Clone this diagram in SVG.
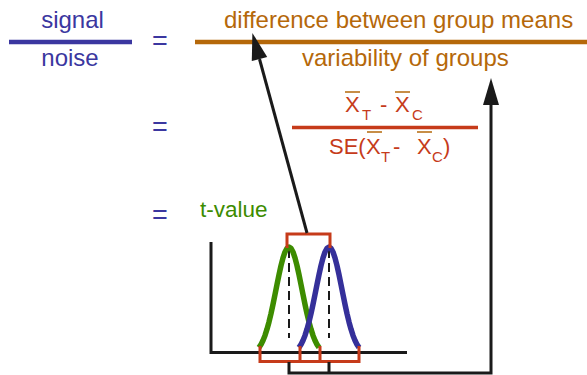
<svg xmlns="http://www.w3.org/2000/svg" width="587" height="375" viewBox="0 0 587 375">
<style>
text{font-family:"Liberation Sans",Arial,Helvetica,sans-serif}
.blue{fill:#3b37a0}
.org{fill:#b5680a}
.red{fill:#c63b1a}
.grn{fill:#3d8c00}
.eq{fill:#3b37a0;font-size:27px}
.big{font-size:24px}
.rx{font-size:22px}
.sub{font-size:15px}
.bar{stroke:#b5680a;stroke-width:1.5}
.rb{fill:none;stroke:#c63b1a;stroke-width:3}
.ax{fill:none;stroke:#1a1a1a;stroke-width:3}
.dash{stroke:#1a1a1a;stroke-width:2;stroke-dasharray:9,5}
.con{fill:none;stroke:#1a1a1a;stroke-width:3}
</style>
<defs>
<marker id="ah" markerUnits="userSpaceOnUse" viewBox="0 0 27 16" refX="0" refY="8" markerWidth="27" markerHeight="16" orient="auto" overflow="visible">
<path d="M0,0 L27,8 L0,16 z" fill="#1a1a1a"/>
</marker>
</defs>

<g id="signal-noise">
<text class="blue big" x="72.5" y="28" text-anchor="middle">signal</text>
<line x1="9" y1="42" x2="132" y2="42" stroke="#3b37a0" stroke-width="4.5"/>
<text class="blue big" x="70" y="66" text-anchor="middle">noise</text>
</g>

<g id="eq1"><text class="eq" x="152" y="49.5">=</text></g>
<g id="eq2"><text class="eq" x="152" y="135.5">=</text></g>
<g id="eq3"><text class="eq" x="152" y="223.5">=</text></g>

<g id="diff-variability">
<text class="org big" x="224" y="28">difference between group means</text>
<line x1="195" y1="42" x2="587" y2="42" stroke="#b5680a" stroke-width="4.5"/>
<text class="org big" x="302" y="65.5">variability of groups</text>
</g>

<g id="formula">
<text class="red rx" x="345" y="112">X</text>
<text class="red sub" x="362" y="120">T</text>
<text class="red rx" x="380" y="112">-</text>
<text class="red rx" x="395" y="112">X</text>
<text class="red sub" x="412" y="120">C</text>
<line class="bar" x1="345" y1="92" x2="360" y2="92"/>
<line class="bar" x1="395" y1="92" x2="410" y2="92"/>
<line x1="292" y1="127.5" x2="478" y2="127.5" stroke="#c63b1a" stroke-width="3.5"/>
<text class="red rx" x="329" y="154">SE(</text>
<text class="red rx" x="366" y="154">X</text>
<text class="red sub" x="381" y="162">T</text>
<text class="red rx" x="393" y="154">-</text>
<text class="red rx" x="417" y="154">X</text>
<text class="red sub" x="432" y="162">C</text>
<text class="red rx" x="443" y="154">)</text>
<line class="bar" x1="367" y1="132" x2="382" y2="132"/>
<line class="bar" x1="417" y1="132" x2="432" y2="132"/>
</g>

<g id="t-value"><text class="grn" x="200" y="217" style="font-size:22.5px">t-value</text></g>

<g id="plot">
<path class="ax" d="M211,242 V352.5 H407"/>
<line class="dash" x1="289" y1="249" x2="289" y2="338"/>
<line class="dash" x1="329" y1="249" x2="329" y2="338"/>
<polyline fill="none" stroke="#3d8c00" stroke-width="5.5" stroke-linejoin="round" points="259,347.5 261,344.4 263,340.4 265,335.4 267,329.2 269,321.9 271,313.6 273,304.4 275,294.5 277,284.5 279,274.7 281,265.6 283,257.9 285,252 287,248.3 289,247 291,248.3 293,252 295,257.9 297,265.6 299,274.7 301,284.5 303,294.5 305,304.4 307,313.6 309,321.9 311,329.2 313,335.4 315,340.4 317,344.4 319,347.5"/>
<polyline fill="none" stroke="#35309a" stroke-width="5.5" stroke-linejoin="round" points="299,347.5 301,344.4 303,340.4 305,335.4 307,329.2 309,321.9 311,313.6 313,304.4 315,294.5 317,284.5 319,274.7 321,265.6 323,257.9 325,252 327,248.3 329,247 331,248.3 333,252 335,257.9 337,265.6 339,274.7 341,284.5 343,294.5 345,304.4 347,313.6 349,321.9 351,329.2 353,335.4 355,340.4 357,344.4 359,347.5"/>
<path class="rb" d="M287,248 V234 H330 V248"/>
<path class="rb" d="M260,346 V361.5 H359 V346 M300,346 V361.5 M320,346 V361.5"/>
</g>

<g id="connectors">
<path class="con" d="M307,233 L259.5,59" marker-end="url(#ah)"/>
<path class="con" d="M329,362 V373 M289,362 V373 H491 V105" marker-end="url(#ah)"/>
</g>
</svg>
